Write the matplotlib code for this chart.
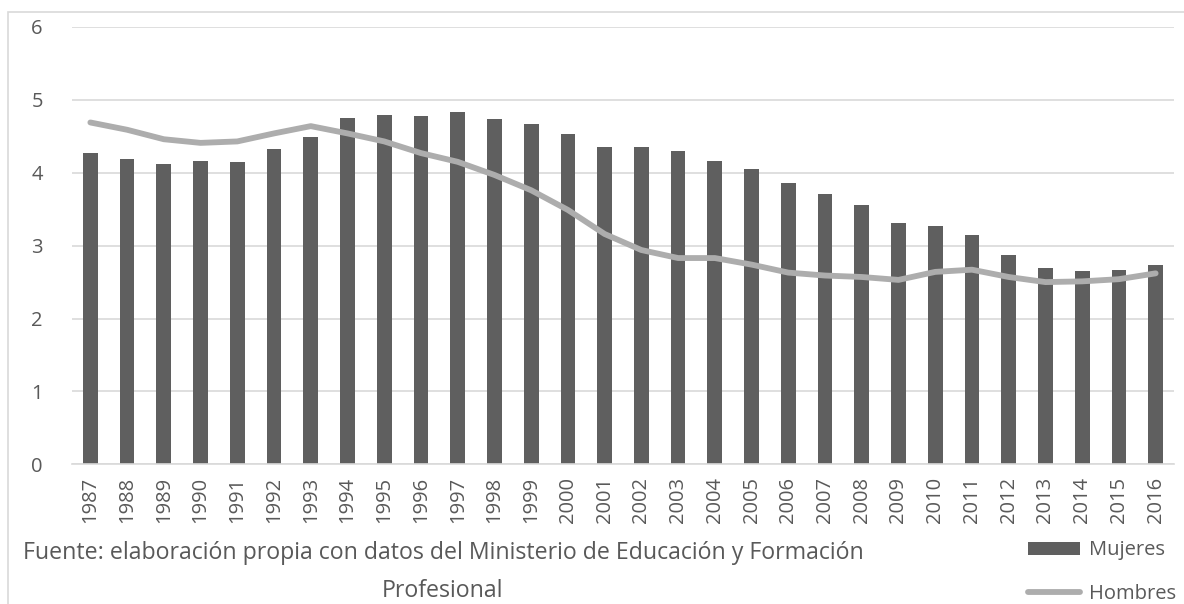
import matplotlib.pyplot as plt
from matplotlib.patches import Rectangle

# datos
years = [str(y) for y in range(1987, 2017)]
mujeres = [4.27, 4.19, 4.12, 4.16, 4.15, 4.33, 4.49, 4.75, 4.79, 4.78,
           4.83, 4.74, 4.67, 4.53, 4.35, 4.36, 4.30, 4.16, 4.05, 3.86,
           3.71, 3.56, 3.31, 3.27, 3.14, 2.87, 2.69, 2.65, 2.66, 2.73]
hombres = [4.69, 4.59, 4.46, 4.41, 4.43, 4.54, 4.64, 4.54, 4.43, 4.27,
           4.15, 3.97, 3.76, 3.49, 3.16, 2.94, 2.83, 2.83, 2.74, 2.63,
           2.59, 2.57, 2.53, 2.64, 2.67, 2.57, 2.50, 2.51, 2.54, 2.62]
yticks = [0, 1, 2, 3, 4, 5, 6]
caption = "Fuente: elaboración propia con datos del Ministerio de Educación y Formación\nProfesional"

plt.rcParams['font.family'] = ['Open Sans', 'DejaVu Sans']
txt = "#595959"
grid = "#D9D9D9"

fig = plt.figure(figsize=(11.84, 6.04), dpi=100)
ax = fig.add_axes([72/1184, 1-464.3/604, (1174-72)/1184, (464.3-27)/604])

x = range(len(years))
bars = ax.bar(x, mujeres, width=0.4, color="#5F5F5F", label="Mujeres", zorder=2)
line, = ax.plot(x, hombres, color="#ADADAD", lw=4.2, solid_capstyle="round",
                solid_joinstyle="round", label="Hombres", zorder=3)

ax.set_xlim(-0.5, len(years) - 0.5)
ax.set_ylim(0, 6)
ax.set_yticks(yticks)
ax.set_xticks(list(x))
ax.set_xticklabels(years, rotation=90)
ax.tick_params(axis='both', length=0, colors=txt, labelsize=14.5)
ax.tick_params(axis='y', pad=21)
ax.tick_params(axis='x', pad=9)
ax.grid(axis='y', color=grid, lw=1.2, zorder=0)
for s in ['top', 'right', 'left']:
    ax.spines[s].set_visible(False)
ax.spines['bottom'].set_color(grid)
ax.spines['bottom'].set_linewidth(1.2)

# marco del grafico
fig.patches.append(Rectangle((8/1184, -0.1), 1.2, 1 - 12/604 + 0.1,
                             transform=fig.transFigure, fill=False,
                             edgecolor=grid, lw=1.2))

fig.text(443/1184, 1-572/604, caption, ha='center', va='center',
         fontsize=16.7, color=txt, linespacing=1.8)

fig.legend(handles=[bars, line], loc='center left',
           bbox_to_anchor=(1028/1184, 1-572/604), frameon=False,
           fontsize=14.5, labelcolor=txt, handlelength=2.6, handleheight=0.65,
           handletextpad=0.45, labelspacing=1.15, borderpad=0, borderaxespad=0)

fig.savefig("out.png", dpi=100)
